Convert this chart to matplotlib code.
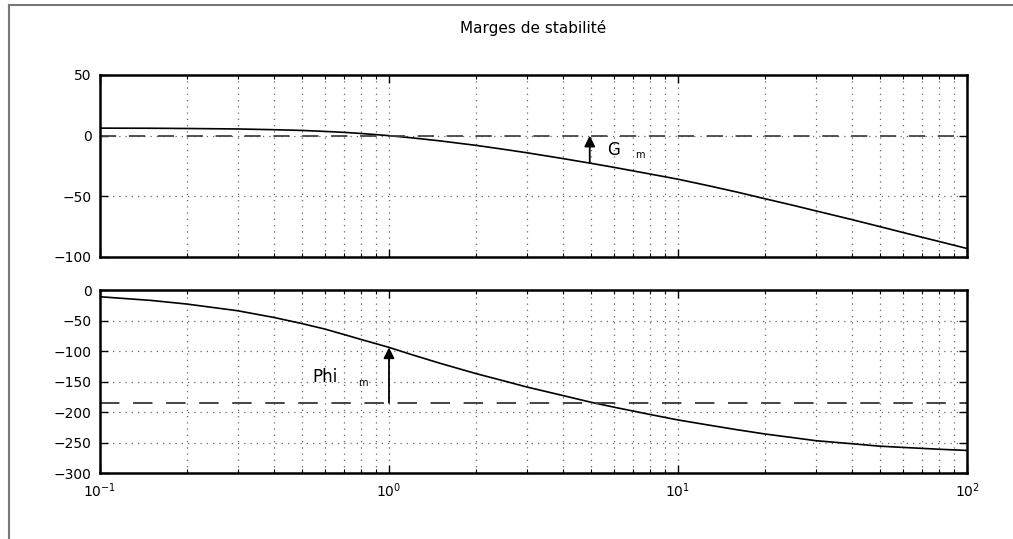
import numpy as np
import matplotlib
matplotlib.use("Agg")
import matplotlib.pyplot as plt
from matplotlib.lines import Line2D

# frequencies [rad/s]
w = [0.1, 0.15, 0.2, 0.3, 0.4, 0.5, 0.6, 0.7, 0.8, 1.0, 1.2, 1.5, 2, 2.5, 3,
     4, 5, 6, 8, 10, 13, 16, 20, 25, 30, 40, 50, 60, 80, 100]

# gain [dB]
gain_db = [6.2, 6.1, 5.9, 5.5, 4.9, 4.3, 3.5, 2.7, 1.8, 0.0, -1.8, -4.3, -8.0,
           -11.3, -14.1, -18.9, -22.8, -26.1, -31.6, -35.9, -41.7, -46.5, -52.0,
           -57.4, -62.0, -69.2, -75.0, -79.8, -87.2, -93.0]

# phase [deg]
phase_deg = [-11, -17, -23, -34, -45, -55, -64, -73, -81, -94, -106, -120, -137,
             -149, -159, -173, -184, -192, -204, -213, -222, -229, -236, -242,
             -247, -252, -256, -258, -261, -263]

# margins
gm_freq = 4.95
gm_gain = -22.8
pm_freq = 1.0
pm_phase = -94
phase_ref = -185

title = "Marges de stabilité"

plt.rcParams['font.family'] = ['DejaVu Sans']

fig = plt.figure(figsize=(10.13, 5.39), dpi=100)
ax1 = fig.add_axes([0.0987, 0.5232, 0.8559, 0.3377])
ax2 = fig.add_axes([0.0987, 0.1224, 0.8559, 0.3395])

# frame of the screenshot (left and top only)
fig.add_artist(Line2D([0.009, 0.009], [0.0, 0.99], transform=fig.transFigure,
                      color='#777777', lw=1.5))
fig.add_artist(Line2D([0.009, 1.0], [0.99, 0.99], transform=fig.transFigure,
                      color='#777777', lw=1.5))

grid_style = dict(color='#666666', linestyle=(0, (1, 4)), linewidth=0.9)
for ax in (ax1, ax2):
    ax.set_xscale('log')
    ax.set_xlim(0.1, 100)
    for spine in ax.spines.values():
        spine.set_linewidth(1.8)
        spine.set_color('k')
    ax.grid(True, which='major', **grid_style)
    ax.grid(True, which='minor', axis='x', **grid_style)
    ax.tick_params(which='both', direction='in', top=True, right=True, labelsize=10)
    ax.tick_params(which='major', length=6, width=1, pad=6)
    ax.tick_params(which='minor', length=3, width=0.8)

# gain
ax1.plot(w, gain_db, color='k', lw=1.2)
ax1.axhline(0, color='#444444', lw=1.3, dashes=(9, 7))
ax1.set_ylim(-100, 50)
ax1.set_yticks([-100, -50, 0, 50])
ax1.tick_params(labelbottom=False)
ax1.annotate('', xy=(gm_freq, 0), xytext=(gm_freq, gm_gain),
             arrowprops=dict(arrowstyle='-|>', color='k', lw=1.3,
                             mutation_scale=16, shrinkA=0, shrinkB=0))
ax1.text(5.68, -12, 'G', fontsize=12, va='center', ha='left')
ax1.text(7.1, -15.6, 'm', fontsize=7, va='center', ha='left')
ax1.set_title(title, fontsize=11, pad=30)

# phase
ax2.plot(w, phase_deg, color='k', lw=1.2)
ax2.axhline(phase_ref, color='#444444', lw=1.4, dashes=(10, 7))
ax2.set_ylim(-300, 0)
ax2.set_yticks([-300, -250, -200, -150, -100, -50, 0])
ax2.annotate('', xy=(pm_freq, pm_phase), xytext=(pm_freq, phase_ref),
             arrowprops=dict(arrowstyle='-|>', color='k', lw=1.3,
                             mutation_scale=16, shrinkA=0, shrinkB=0))
ax2.text(0.542, -142, 'Phi', fontsize=12, va='center', ha='left')
ax2.text(0.78, -153, 'm', fontsize=7, va='center', ha='left')

fig.savefig('out.png', dpi=100)
